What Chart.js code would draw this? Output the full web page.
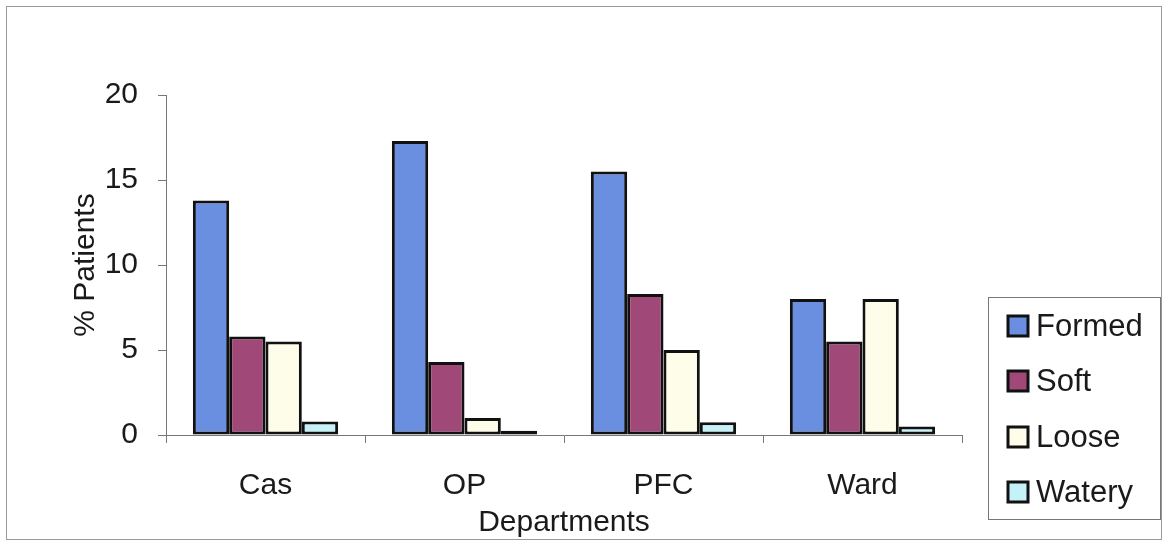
<!DOCTYPE html>
<html>
<head>
<meta charset="utf-8">
<script src="https://cdn.jsdelivr.net/npm/chart.js@4/dist/chart.umd.min.js"></script>
<style>
  html, body { margin: 0; padding: 0; background: #fff; }
  canvas { display: block; }
</style>
</head>
<body>
<canvas id="grafico" width="1164" height="547"></canvas>
<script>
// ── Dados ─────────────────────────────────────────────────────────────────
const DEPARTAMENTOS = ["Cas", "OP", "PFC", "Ward"];
const FORMED = [13.8, 17.3, 15.5, 8.0];
const SOFT   = [5.8, 4.3, 8.3, 5.5];
const LOOSE  = [5.5, 1.0, 5.0, 8.0];
const WATERY = [0.8, 0.25, 0.75, 0.5];
const Y_TICKS = [0, 5, 10, 15, 20];

const SERIES = [
    { label: "Formed", data: FORMED, cor: "#6a8ee0" },
    { label: "Soft",   data: SOFT,   cor: "#a04877" },
    { label: "Loose",  data: LOOSE,  cor: "#fdfdea" },
    { label: "Watery", data: WATERY, cor: "#c4f2f8" }
];

const FONTE = "'Liberation Sans', Arial, sans-serif";
const TEXTO = "#1a1a1a";

// ── Legenda em caixa + moldura externa ────────────────────────────────────
const molduraPlugin = {
    id: "moldura",
    afterDraw(chart) {
        const ctx = chart.ctx;
        ctx.save();
        ctx.strokeStyle = "#999";
        ctx.lineWidth = 1;
        ctx.strokeRect(6.5, 6.5, 1155, 533);

        ctx.strokeStyle = "#777";
        ctx.strokeRect(988.5, 297.5, 172, 222);

        const linhas = [326, 381, 437, 492];
        ctx.font = "31px " + FONTE;
        ctx.textBaseline = "middle";
        ctx.textAlign = "left";
        SERIES.forEach((s, i) => {
            const y = linhas[i];
            ctx.fillStyle = s.cor;
            ctx.fillRect(1008, y - 10, 20, 20);
            ctx.lineWidth = 3;
            ctx.strokeStyle = "#111";
            ctx.strokeRect(1008, y - 10, 20, 20);
            ctx.fillStyle = TEXTO;
            ctx.fillText(s.label, 1036, y + 1);
        });
        ctx.restore();
    }
};

new Chart(document.getElementById("grafico"), {
    type: "bar",
    data: {
        labels: DEPARTAMENTOS,
        datasets: SERIES.map(s => ({
            label: s.label,
            data: s.data,
            backgroundColor: s.cor,
            borderColor: "#111",
            borderWidth: 3,
            borderSkipped: false,
            categoryPercentage: 0.73,
            barPercentage: 1.0
        }))
    },
    options: {
        responsive: false,
        animation: false,
        layout: { padding: { top: 95, right: 202, bottom: 0, left: 0 } },
        plugins: {
            legend: { display: false },
            tooltip: { enabled: false }
        },
        scales: {
            x: {
                afterFit: s => { s.height = 112; },
                grid: {
                    drawOnChartArea: false,
                    offset: true,
                    tickLength: 8,
                    color: "#777"
                },
                border: { color: "#777", width: 1 },
                ticks: {
                    padding: 25,
                    color: TEXTO,
                    font: { family: FONTE, size: 30 }
                },
                title: {
                    display: true,
                    text: "Departments",
                    color: TEXTO,
                    font: { family: FONTE, size: 30 },
                    padding: { top: 0, bottom: 6 }
                }
            },
            y: {
                min: 0,
                max: 20,
                afterFit: s => { s.width = 166; },
                afterBuildTicks: s => { s.ticks = Y_TICKS.map(v => ({ value: v })); },
                grid: {
                    drawOnChartArea: false,
                    tickLength: 8,
                    color: "#777"
                },
                border: { color: "#777", width: 1 },
                ticks: {
                    padding: 20,
                    color: TEXTO,
                    font: { family: FONTE, size: 30 }
                },
                title: {
                    display: true,
                    text: "% Patients",
                    color: TEXTO,
                    font: { family: FONTE, size: 30 },
                    padding: { top: 68, bottom: 0 }
                }
            }
        }
    },
    plugins: [molduraPlugin]
});
</script>
</body>
</html>
